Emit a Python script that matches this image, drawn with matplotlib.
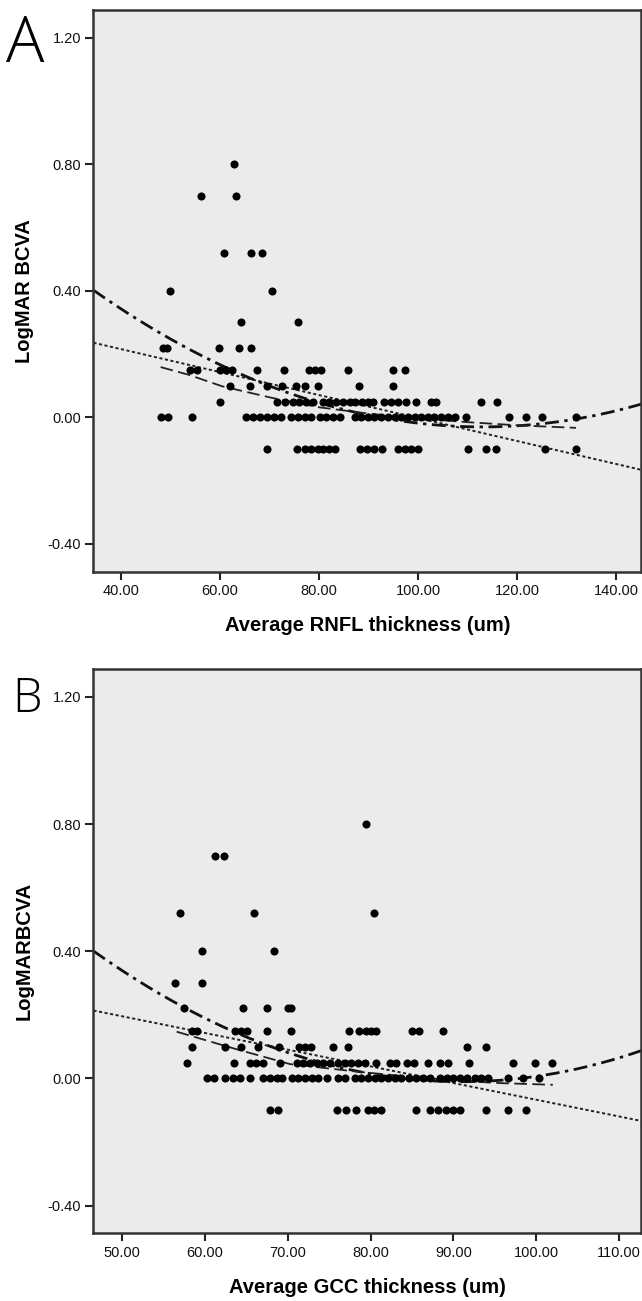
import numpy as np
import matplotlib
matplotlib.use("Agg")
import matplotlib.pyplot as plt

plt.rcParams['font.family'] = ['Liberation Sans', 'DejaVu Sans']

# ---- panel A: RNFL ----
rnfl_levels = [0.80, 0.70, 0.52, 0.40, 0.30, 0.22, 0.15, 0.10, 0.05, 0.00, -0.10]
rnfl_x = [
    [62.8],
    [56.1, 63.3],
    [60.8, 66.2, 68.4],
    [49.9, 70.5],
    [64.3, 75.8],
    [48.5, 49.3, 59.8, 63.8, 66.2],
    [54.0, 55.4, 60.0, 61.3, 62.5, 67.4, 72.9, 78.0, 79.2, 80.3, 85.8, 95.0, 97.3],
    [62.0, 66.0, 69.4, 72.6, 75.3, 77.1, 79.8, 88.0, 95.0],
    [60.0, 71.5, 73.1, 74.7, 76.0, 77.4, 78.8, 80.7, 82.1, 83.5, 84.8, 86.2, 87.2,
     88.7, 89.9, 90.9, 93.1, 94.6, 95.9, 97.5, 99.5, 102.6, 103.6, 112.7, 115.9],
    [48.0, 49.5, 54.4, 65.3, 66.7, 68.0, 69.4, 71.0, 72.4, 74.4, 75.7, 77.1, 78.4,
     80.1, 81.5, 82.8, 84.2, 87.2, 88.5, 89.9, 91.2, 92.6, 93.9, 95.3, 96.6, 98.0,
     99.3, 100.6, 102.0, 103.3, 104.7, 106.0, 107.4, 109.6, 118.3, 121.8, 125.1, 131.9],
    [69.4, 75.5, 77.1, 78.4, 79.8, 80.8, 82.0, 83.2, 88.3, 89.7, 91.2, 92.7, 95.9,
     97.3, 98.6, 99.9, 110.0, 113.7, 115.7, 125.7, 131.9],
]
rnfl_lin = (-0.00363, 0.361)               # slope, intercept
rnfl_quad = [7.0e-5, -0.01582, 0.8638]
rnfl_loess_x = [48.0, 53.6, 60.5, 70.7, 80.0, 90.0, 100.0, 110.0, 120.0, 131.9]
rnfl_loess_y = [0.159, 0.135, 0.098, 0.061, 0.032, 0.012, -0.003, -0.015, -0.025, -0.033]
rnfl_ticks = [40, 60, 80, 100, 120, 140]

# ---- panel B: GCC ----
gcc_levels = [0.80, 0.70, 0.52, 0.40, 0.30, 0.22, 0.15, 0.10, 0.05, 0.00, -0.10]
gcc_x = [
    [79.4],
    [61.2, 62.3],
    [57.0, 65.9, 80.4],
    [59.6, 68.3],
    [56.4, 59.6],
    [57.5, 64.6, 67.5, 70.0, 70.4],
    [58.5, 59.0, 63.7, 64.4, 65.1, 67.5, 70.4, 77.4, 78.6, 79.4, 80.1, 80.7, 85.0, 85.9, 88.8],
    [58.4, 62.4, 64.4, 66.4, 68.9, 71.4, 72.1, 72.8, 75.5, 77.3, 91.7, 93.9],
    [57.8, 63.5, 65.4, 66.2, 67.0, 69.1, 71.1, 71.9, 72.7, 73.5, 74.3, 75.1, 76.1,
     76.9, 77.7, 78.5, 79.3, 80.7, 82.4, 83.1, 84.4, 85.2, 86.9, 88.4, 89.4, 91.9,
     97.2, 99.8, 101.9],
    [60.3, 61.1, 62.4, 63.4, 64.2, 65.4, 67.0, 67.9, 68.7, 69.3, 70.5, 71.3, 72.1,
     72.9, 73.7, 74.8, 76.1, 76.9, 78.1, 78.9, 79.7, 80.5, 81.3, 82.1, 82.9, 83.7,
     84.7, 85.5, 86.3, 87.2, 88.4, 89.2, 90.0, 90.8, 91.6, 92.6, 93.3, 94.2, 96.6,
     98.4, 100.3],
    [67.9, 68.8, 76.0, 77.1, 78.2, 79.7, 80.4, 81.3, 85.5, 87.2, 88.2, 89.1, 90.0,
     90.8, 93.9, 96.6, 98.8],
]
gcc_lin = (-0.00525, 0.458)
gcc_quad = [2.08e-4, -0.03786, 1.7125]
gcc_loess_x = [56.6, 63.8, 70.3, 78.5, 85.0, 90.8, 96.0, 102.0]
gcc_loess_y = [0.147, 0.092, 0.045, 0.021, 0.005, -0.008, -0.015, -0.020]
gcc_ticks = [50, 60, 70, 80, 90, 100, 110]

y_ticks = [-0.40, 0.00, 0.40, 0.80, 1.20]


def draw_panel(ax, levels, xs, lin, quad, lo_x, lo_y, xlim, xticks, xlabel, ylabel):
    ax.set_facecolor('#ebebeb')
    for lev, row in zip(levels, xs):
        ax.scatter(row, [lev] * len(row), s=34, color='black', zorder=3, linewidths=0)
    # linear fit, dotted
    ax.axline((0, lin[1]), slope=lin[0], color='#222222', lw=1.4,
              linestyle=(0, (1.6, 1.3)), zorder=2)
    # quadratic fit, dash-dot
    qx = np.linspace(xlim[0], xlim[1], 200)
    ax.plot(qx, np.polyval(quad, qx), color='#111111', lw=2.0,
            linestyle=(0, (5, 2, 1.2, 2)), zorder=2)
    # loess, long dash
    ax.plot(lo_x, lo_y, color='#222222', lw=1.3, linestyle=(0, (7, 3)), zorder=2)
    ax.set_xlim(*xlim)
    ax.set_ylim(-0.4875, 1.2875)
    ax.set_xticks(xticks)
    ax.set_xticklabels([f"{t:.2f}" for t in xticks])
    ax.set_yticks(y_ticks)
    ax.set_yticklabels([f"{t:.2f}" for t in y_ticks])
    ax.tick_params(direction='out', length=6, width=1.5, labelsize=10.5, pad=3,
                   color='#222222', labelcolor='#111111')
    for side in ['left', 'bottom', 'top', 'right']:
        ax.spines[side].set_linewidth(1.8)
        ax.spines[side].set_color('#333333')
    ax.set_xlabel(xlabel, fontsize=14.5, fontweight='bold', labelpad=13)
    ax.set_ylabel(ylabel, fontsize=14.5, fontweight='bold', labelpad=10)


fig = plt.figure(figsize=(6.42, 13.01), dpi=100)
ax1 = fig.add_axes([0.1456, 0.5606, 0.853, 0.4317])
ax2 = fig.add_axes([0.1456, 0.0519, 0.853, 0.4339])

draw_panel(ax1, rnfl_levels, rnfl_x, rnfl_lin, rnfl_quad, rnfl_loess_x, rnfl_loess_y,
           (34.44, 145.05), rnfl_ticks, "Average RNFL thickness (um)", "LogMAR BCVA")
draw_panel(ax2, gcc_levels, gcc_x, gcc_lin, gcc_quad, gcc_loess_x, gcc_loess_y,
           (46.56, 112.66), gcc_ticks, "Average GCC thickness (um)", "LogMARBCVA")

fig.text(0.010, 0.9525, "A", fontsize=46, fontweight=300, family=['Open Sans', 'DejaVu Sans'])
fig.text(0.019, 0.4530, "B", fontsize=34, fontweight=300, family=['Open Sans', 'DejaVu Sans'])

fig.savefig("out.png", dpi=100)
